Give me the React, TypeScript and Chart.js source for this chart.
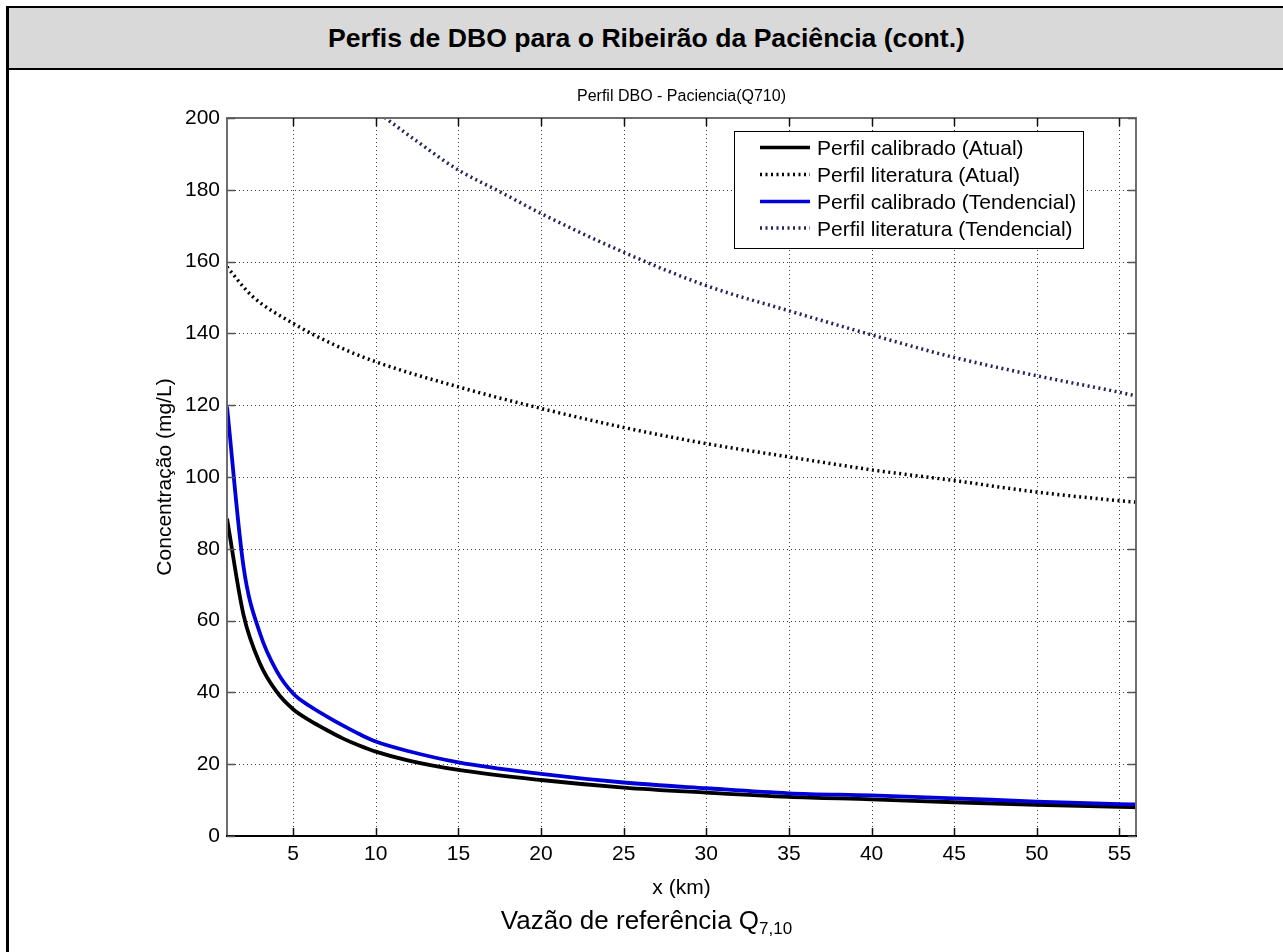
import React, { useEffect, useRef } from "react";
import { Chart, registerables } from "chart.js";

Chart.register(...registerables);

const FONT = '"Liberation Sans", Arial, Helvetica, sans-serif';

// ---- texts ----
const headerTitle = "Perfis de DBO para o Ribeirão da Paciência (cont.)";
const chartTitle = "Perfil DBO - Paciencia(Q710)";
const xAxisTitle = "x (km)";
const yAxisTitle = "Concentração (mg/L)";
const captionMain = "Vazão de referência Q";
const captionSub = "7,10";

// ---- axes ----
const xTicks = [5, 10, 15, 20, 25, 30, 35, 40, 45, 50, 55];
const yTicks = [0, 20, 40, 60, 80, 100, 120, 140, 160, 180, 200];
const xMin = 1;
const xMax = 56;
const yMin = 0;
const yMax = 200;

// ---- series ----
const seriesNames = [
  "Perfil calibrado (Atual)",
  "Perfil literatura (Atual)",
  "Perfil calibrado (Tendencial)",
  "Perfil literatura (Tendencial)",
];

const calibX = [1, 2, 3, 4, 5, 6, 7, 8, 9, 10, 12, 15, 20, 25, 30, 35, 40, 45, 50, 55, 56];
const calibAtual = [88.4, 61.6, 48.0, 40.2, 35.3, 32.2, 29.6, 27.2, 25.2, 23.5, 21.0, 18.4, 15.6, 13.5, 12.1, 10.9, 10.2, 9.4, 8.7, 8.1, 8.0];
const calibTend = [119.6, 75.0, 56.4, 46.0, 39.7, 36.2, 33.4, 30.8, 28.4, 26.3, 23.6, 20.5, 17.3, 14.9, 13.3, 11.9, 11.3, 10.5, 9.6, 8.9, 8.8];

const litAtualX = [1, 2.5, 5, 7.5, 10, 15, 20, 25, 30, 35, 40, 45, 50, 55, 56];
const litAtual = [158.5, 150.5, 142.8, 136.8, 132.1, 125.1, 119.1, 113.8, 109.3, 105.6, 102.0, 99.0, 95.8, 93.4, 93.0];

const litTendX = [10, 12.5, 15, 17.5, 20, 25, 30, 35, 40, 45, 50, 55, 56];
const litTend = [202.0, 193.5, 185.5, 179.5, 173.4, 162.6, 153.3, 146.3, 139.6, 133.3, 128.2, 123.6, 122.6];

const BLACK = "#000000";
const BLUE = "#0000d8";
const NAVY = "#24245e";
const DOT_DASH = [2, 3.5];

const pts = (xs: number[], ys: number[]) => xs.map((x, i) => ({ x, y: ys[i] }));

const legendStyles = [
  { color: BLACK, dash: [] as number[], width: 3.5 },
  { color: BLACK, dash: DOT_DASH, width: 3.5 },
  { color: BLUE, dash: [] as number[], width: 3.5 },
  { color: NAVY, dash: DOT_DASH, width: 3.5 },
];

const matlabPlugin = {
  id: "matlabLook",
  beforeDatasetsDraw(chart: any) {
    const { ctx, chartArea: a, scales } = chart;
    const xs = scales.x;
    const ys = scales.y;
    ctx.save();
    ctx.strokeStyle = "#3a3a3a";
    ctx.lineWidth = 1;
    ctx.setLineDash([1, 3]);
    for (const v of xTicks) {
      const px = Math.round(xs.getPixelForValue(v)) + 0.5;
      ctx.beginPath();
      ctx.moveTo(px, a.top);
      ctx.lineTo(px, a.bottom);
      ctx.stroke();
    }
    for (const v of yTicks) {
      const py = Math.round(ys.getPixelForValue(v)) + 0.5;
      ctx.beginPath();
      ctx.moveTo(a.left, py);
      ctx.lineTo(a.right, py);
      ctx.stroke();
    }
    ctx.restore();
  },
  afterDraw(chart: any) {
    const { ctx, chartArea: a, scales } = chart;
    const xs = scales.x;
    const ys = scales.y;
    ctx.save();
    ctx.setLineDash([]);
    // box
    ctx.lineWidth = 2;
    ctx.strokeStyle = "#6e6e6e";
    ctx.beginPath();
    ctx.moveTo(a.left, a.bottom);
    ctx.lineTo(a.left, a.top);
    ctx.lineTo(a.right, a.top);
    ctx.lineTo(a.right, a.bottom);
    ctx.stroke();
    ctx.strokeStyle = "#000";
    ctx.beginPath();
    ctx.moveTo(a.left - 1, a.bottom);
    ctx.lineTo(a.right + 1, a.bottom);
    ctx.stroke();
    // tick marks
    const TL = 8;
    ctx.lineWidth = 1.5;
    ctx.strokeStyle = "#111";
    for (const v of xTicks) {
      const px = Math.round(xs.getPixelForValue(v)) + 0.5;
      ctx.beginPath();
      ctx.moveTo(px, a.bottom);
      ctx.lineTo(px, a.bottom - TL);
      ctx.moveTo(px, a.top);
      ctx.lineTo(px, a.top + TL);
      ctx.stroke();
    }
    ctx.strokeStyle = "#555";
    for (const v of yTicks) {
      const py = Math.round(ys.getPixelForValue(v)) + 0.5;
      ctx.beginPath();
      ctx.moveTo(a.left, py);
      ctx.lineTo(a.left + TL, py);
      ctx.moveTo(a.right, py);
      ctx.lineTo(a.right - TL, py);
      ctx.stroke();
    }
    // title
    ctx.fillStyle = "#000";
    ctx.font = `16px ${FONT}`;
    ctx.textAlign = "center";
    ctx.textBaseline = "middle";
    ctx.fillText(chartTitle, (a.left + a.right) / 2, 27);
    // legend
    const bx = 734.5;
    const by = 61.5;
    const bw = 349;
    const bh = 117;
    ctx.fillStyle = "#fff";
    ctx.fillRect(bx, by, bw, bh);
    ctx.strokeStyle = "#000";
    ctx.lineWidth = 1;
    ctx.strokeRect(bx, by, bw, bh);
    const rows = [77.5, 104.5, 131.5, 158];
    ctx.font = `21px ${FONT}`;
    ctx.textAlign = "left";
    ctx.textBaseline = "middle";
    seriesNames.forEach((name, i) => {
      const st = legendStyles[i];
      ctx.save();
      ctx.strokeStyle = st.color;
      ctx.lineWidth = st.width;
      ctx.setLineDash(st.dash);
      ctx.beginPath();
      ctx.moveTo(760, rows[i]);
      ctx.lineTo(810, rows[i]);
      ctx.stroke();
      ctx.restore();
      ctx.fillStyle = "#000";
      ctx.fillText(name, 817, rows[i] + 2);
    });
    ctx.restore();
  },
};

export default function App() {
  const canvasRef = useRef<HTMLCanvasElement>(null);

  useEffect(() => {
    const canvas = canvasRef.current;
    if (!canvas) return;
    const tickFont = { family: FONT, size: 21 };
    const chart = new Chart(canvas, {
      type: "line",
      data: {
        datasets: [
          {
            label: seriesNames[0],
            data: pts(calibX, calibAtual),
            borderColor: BLACK,
            borderWidth: 3.8,
            pointRadius: 0,
            cubicInterpolationMode: "monotone",
            clip: 0,
            order: 1,
          },
          {
            label: seriesNames[1],
            data: pts(litAtualX, litAtual),
            borderColor: BLACK,
            borderWidth: 3.5,
            borderDash: DOT_DASH,
            pointRadius: 0,
            cubicInterpolationMode: "monotone",
            clip: 0,
            order: 2,
          },
          {
            label: seriesNames[2],
            data: pts(calibX, calibTend),
            borderColor: BLUE,
            borderWidth: 3.8,
            pointRadius: 0,
            cubicInterpolationMode: "monotone",
            clip: 0,
            order: 0,
          },
          {
            label: seriesNames[3],
            data: pts(litTendX, litTend),
            borderColor: NAVY,
            borderWidth: 3.5,
            borderDash: DOT_DASH,
            pointRadius: 0,
            cubicInterpolationMode: "monotone",
            clip: 0,
            order: 3,
          },
        ] as any,
      },
      options: {
        responsive: false,
        animation: false,
        devicePixelRatio: 1,
        events: [],
        layout: { padding: { left: 150, right: 147, top: 48, bottom: 0 } },
        plugins: {
          legend: { display: false },
          title: { display: false },
          tooltip: { enabled: false },
        },
        scales: {
          x: {
            type: "linear",
            min: xMin,
            max: xMax,
            afterBuildTicks: (s: any) => {
              s.ticks = xTicks.map((v) => ({ value: v }));
            },
            afterFit: (s: any) => {
              s.height = 74;
            },
            grid: { display: false, drawTicks: false },
            border: { display: false },
            ticks: { font: tickFont, color: "#000", padding: 6, maxRotation: 0, autoSkip: false },
            title: {
              display: true,
              text: xAxisTitle,
              font: tickFont,
              color: "#000",
              padding: { top: 0, bottom: 9 },
            },
          },
          y: {
            type: "linear",
            min: yMin,
            max: yMax,
            afterBuildTicks: (s: any) => {
              s.ticks = yTicks.map((v) => ({ value: v }));
            },
            afterFit: (s: any) => {
              s.width = 77;
            },
            grid: { display: false, drawTicks: false },
            border: { display: false },
            ticks: { font: tickFont, color: "#000", padding: 7, autoSkip: false },
            title: {
              display: true,
              text: yAxisTitle,
              font: tickFont,
              color: "#000",
              padding: { top: 3, bottom: 0 },
            },
          },
        },
      } as any,
      plugins: [matlabPlugin],
    });
    return () => chart.destroy();
  }, []);

  return (
    <div
      style={{
        position: "absolute",
        left: 0,
        top: 0,
        width: 1283,
        height: 952,
        overflow: "hidden",
        background: "#fff",
        fontFamily: FONT,
      }}
    >
      {/* outer frame */}
      <div
        style={{
          position: "absolute",
          left: 6,
          top: 6,
          width: 1290,
          height: 1000,
          borderLeft: "3px solid #000",
          borderTop: "2px solid #000",
          boxSizing: "border-box",
        }}
      />
      {/* header */}
      <div
        style={{
          position: "absolute",
          left: 9,
          top: 8,
          width: 1275,
          height: 60,
          background: "#d9d9d9",
          borderBottom: "2px solid #000",
          display: "flex",
          alignItems: "center",
          justifyContent: "center",
          fontWeight: "bold",
          fontSize: 26.6,
          color: "#000",
        }}
      >
        {headerTitle}
      </div>
      <canvas
        ref={canvasRef}
        width={1283}
        height={840}
        style={{ position: "absolute", left: 0, top: 70, width: 1283, height: 840 }}
      />
      <div
        style={{
          position: "absolute",
          left: 9,
          top: 908,
          width: 1275,
          textAlign: "center",
          fontSize: 26,
          lineHeight: "25px",
          color: "#000",
        }}
      >
        {captionMain}
        <span style={{ fontSize: 17, position: "relative", top: 5 }}>{captionSub}</span>
      </div>
    </div>
  );
}
